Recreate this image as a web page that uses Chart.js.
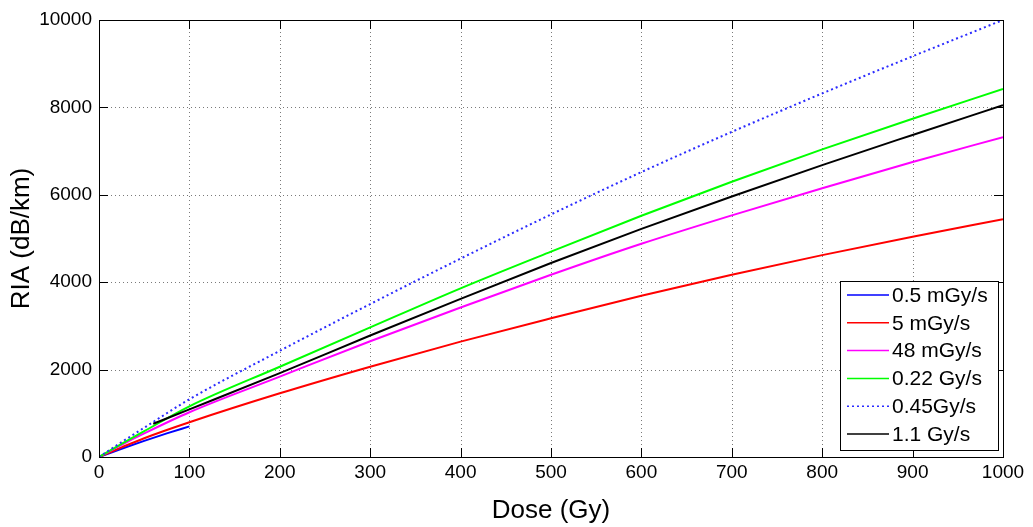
<!DOCTYPE html>
<html lang="en">

<head>
    <meta charset="UTF-8">
    <title>RIA vs Dose</title>
    <script src="https://cdn.jsdelivr.net/npm/chart.js"></script>
    <style>
        body { margin: 0; background: #fff; }
    </style>
</head>

<body>
    <canvas id="canvas" width="1033" height="527"></canvas>
</body>

</html>
<script>
    // data (Dose in Gy, RIA in dB/km)
    const doseFull = [0, 25, 50, 100, 200, 300, 400, 500, 600, 700, 800, 900, 1000];
    const doseShort = [0, 25, 50, 75, 100];
    const doseBlack = [60, 100, 200, 300, 400, 500, 600, 700, 800, 900, 1000];

    const ria05m = [0, 190, 370, 540, 700];
    const ria5m = [0, 220, 430, 795, 1457, 2066, 2640, 3174, 3690, 4170, 4620, 5040, 5440];
    const ria48m = [0, 280, 540, 1025, 1840, 2650, 3420, 4170, 4880, 5530, 6150, 6750, 7320];
    const ria022 = [0, 300, 590, 1160, 2066, 2966, 3860, 4700, 5520, 6300, 7040, 7740, 8420];
    const ria045 = [0, 340, 670, 1320, 2430, 3500, 4540, 5550, 6520, 7440, 8320, 9170, 10000];
    const ria11 = [760, 1090, 1920, 2780, 3620, 4440, 5220, 5960, 6680, 7370, 8050];

    const labels = ['0.5 mGy/s', '5 mGy/s', '48 mGy/s', '0.22 Gy/s', '0.45Gy/s', '1.1 Gy/s'];
    const xTicks = [0, 1000, 100];
    const yTicks = [0, 10000, 2000];

    const pts = (xs, ys) => xs.map((x, i) => ({ x: x, y: ys[i] }));

    const series = [
        { data: pts(doseShort, ria05m), color: '#0000ff', dash: [] },
        { data: pts(doseFull, ria5m), color: '#ff0000', dash: [] },
        { data: pts(doseFull, ria48m), color: '#ff00ff', dash: [] },
        { data: pts(doseFull, ria022), color: '#00ff00', dash: [] },
        { data: pts(doseFull, ria045), color: '#2b2bff', dash: [2, 3] },
        { data: pts(doseBlack, ria11), color: '#000000', dash: [] }
    ];

    const FONT = 'Arial, "Liberation Sans", sans-serif';

    // MATLAB style: dotted grid, box, inward ticks and legend inside the axes
    const matlabBox = {
        id: 'matlabBox',
        beforeDatasetsDraw(chart) {
            const { ctx, chartArea: a, scales } = chart;
            ctx.save();
            ctx.strokeStyle = '#7a7a7a';
            ctx.lineWidth = 1;
            ctx.setLineDash([1, 3]);
            ctx.beginPath();
            scales.x.ticks.forEach(t => {
                const px = Math.round(scales.x.getPixelForValue(t.value)) + 0.5;
                ctx.moveTo(px, a.bottom); ctx.lineTo(px, a.top);
            });
            scales.y.ticks.forEach(t => {
                const py = Math.round(scales.y.getPixelForValue(t.value)) + 0.5;
                ctx.moveTo(a.left, py); ctx.lineTo(a.right, py);
            });
            ctx.stroke();
            ctx.restore();
        },
        afterDraw(chart) {
            const { ctx, chartArea: a, scales } = chart;
            ctx.save();
            ctx.strokeStyle = '#000';
            ctx.lineWidth = 1;
            ctx.setLineDash([]);
            ctx.beginPath();
            const tl = 9;
            scales.x.ticks.forEach(t => {
                const px = Math.round(scales.x.getPixelForValue(t.value)) + 0.5;
                ctx.moveTo(px, a.bottom); ctx.lineTo(px, a.bottom - tl);
                ctx.moveTo(px, a.top); ctx.lineTo(px, a.top + tl);
            });
            scales.y.ticks.forEach(t => {
                const py = Math.round(scales.y.getPixelForValue(t.value)) + 0.5;
                ctx.moveTo(a.left, py); ctx.lineTo(a.left + tl, py);
                ctx.moveTo(a.right, py); ctx.lineTo(a.right - tl, py);
            });
            ctx.stroke();
            ctx.strokeRect(Math.round(a.left) + 0.5, Math.round(a.top) + 0.5,
                Math.round(a.right - a.left), Math.round(a.bottom - a.top));

            // legend
            const lx = 840, ly = 281, lw = 158, lh = 169;
            ctx.fillStyle = '#fff';
            ctx.fillRect(lx, ly, lw, lh);
            ctx.strokeRect(lx + 0.5, ly + 0.5, lw, lh);
            ctx.font = '21px ' + FONT;
            ctx.textBaseline = 'middle';
            ctx.textAlign = 'left';
            chart.data.datasets.forEach((ds, i) => {
                const y = ly + 14 + i * 27.8;
                ctx.strokeStyle = ds.borderColor;
                ctx.lineWidth = 1.5;
                ctx.setLineDash(ds.borderDash);
                ctx.beginPath();
                ctx.moveTo(847, y); ctx.lineTo(889, y);
                ctx.stroke();
                ctx.fillStyle = '#000';
                ctx.fillText(ds.label, 892, y + 1);
            });
            ctx.restore();
        }
    };

    const ctx = document.getElementById('canvas').getContext('2d');
    const chart = new Chart(ctx, {
        type: 'line',
        data: {
            datasets: series.map((s, i) => ({
                label: labels[i],
                data: s.data,
                borderColor: s.color,
                backgroundColor: s.color,
                borderWidth: 2,
                borderDash: s.dash,
                pointRadius: 0,
                fill: false,
                cubicInterpolationMode: 'monotone',
                order: series.length - 1 - i
            }))
        },
        options: {
            responsive: false,
            animation: false,
            devicePixelRatio: 1,
            layout: { padding: { top: 20, right: 30, left: 0, bottom: 0 } },
            plugins: {
                legend: { display: false },
                tooltip: { enabled: false }
            },
            scales: {
                x: {
                    type: 'linear',
                    min: xTicks[0],
                    max: xTicks[1],
                    afterFit(scale) { scale.height = 70; },
                    ticks: {
                        stepSize: xTicks[2],
                        color: '#000',
                        padding: 4,
                        maxRotation: 0,
                        callback: v => String(v),
                        font: { family: FONT, size: 19 }
                    },
                    grid: { display: false, drawTicks: false },
                    border: { display: false },
                    title: {
                        display: true,
                        text: 'Dose (Gy)',
                        color: '#000',
                        padding: { top: 0, bottom: 1 },
                        font: { family: FONT, size: 26 }
                    }
                },
                y: {
                    min: yTicks[0],
                    max: yTicks[1],
                    afterFit(scale) { scale.width = 99; },
                    ticks: {
                        stepSize: yTicks[2],
                        color: '#000',
                        padding: 7,
                        callback: v => String(v),
                        font: { family: FONT, size: 19 }
                    },
                    grid: { display: false, drawTicks: false },
                    border: { display: false },
                    title: {
                        display: true,
                        text: 'RIA (dB/km)',
                        color: '#000',
                        padding: { top: 6, bottom: 0 },
                        font: { family: FONT, size: 26 }
                    }
                }
            }
        },
        plugins: [matlabBox]
    });
</script>
